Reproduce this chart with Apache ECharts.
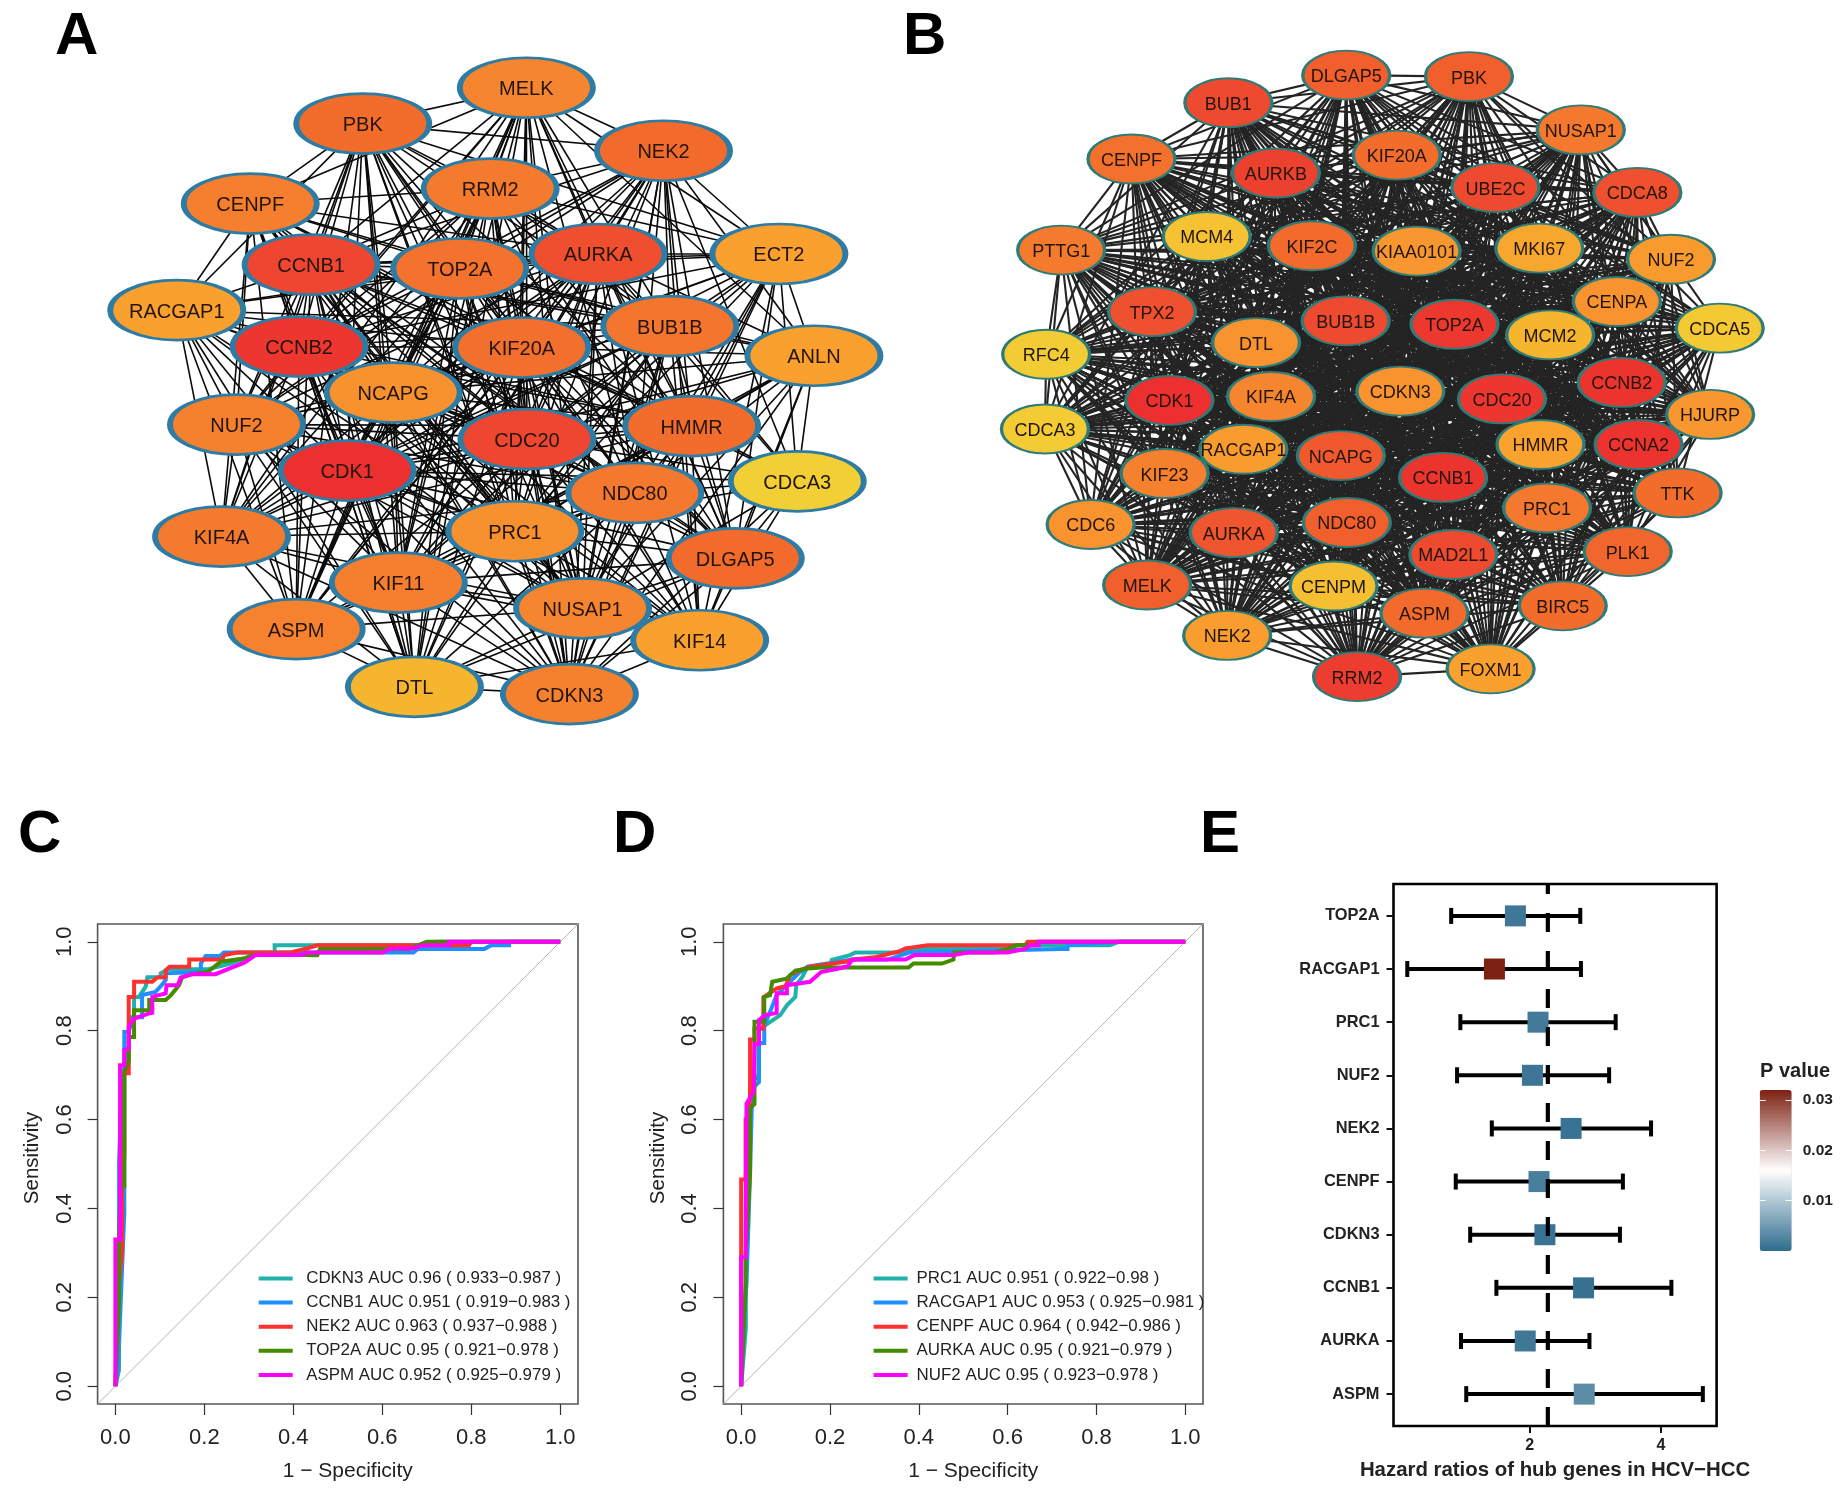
<!DOCTYPE html>
<html><head><meta charset="utf-8">
<style>html,body{margin:0;background:#fff}#c{width:1843px;height:1490px}</style>
<script src="https://cdn.jsdelivr.net/npm/echarts@6/dist/echarts.min.js"></script>
</head><body><div id="c"></div>
<script>
// ---------- Panel A network ----------
const genesA = ['MELK','PBK','NEK2','CENPF','RRM2','AURKA','ECT2','CCNB1','TOP2A','RACGAP1','BUB1B','CCNB2','KIF20A','ANLN','NCAPG','NUF2','HMMR','CDC20','CDK1','CDCA3','NDC80','PRC1','KIF4A','DLGAP5','KIF11','NUSAP1','ASPM','KIF14','DTL','CDKN3'];
const layoutXA = [917,632,1156,436,854,1042,1357,542,801,308,1167,521,909,1418,685,412,1205,918,605,1389,1106,897,386,1281,694,1015,516,1219,722,992];
const layoutYA = [181,255,311,420,389,524,524,546,554,640,673,715,717,734,810,876,879,906,971,993,1017,1096,1107,1152,1202,1255,1298,1321,1417,1432];
const scoreA = [.5,.68,.7,.55,.58,.83,.35,.87,.64,.35,.62,.96,.66,.35,.43,.53,.68,.87,1,0,.6,.44,.58,.7,.55,.5,.52,.35,.2,.53];
const neighboursA = [
 [1,2,3,4,5,6,7,8,10,11,12,13,14,15,16,17,18,20,21,22,23,24,25,26,28,29],
 [2,3,4,5,6,7,8,9,10,11,12,14,15,16,17,18,20,21,22,23,24,25,26,28,29],
 [4,5,6,7,8,10,11,12,13,14,15,16,17,18,19,20,21,23,24,25,26,27,29],
 [4,5,7,8,9,10,11,12,14,15,16,17,18,20,21,22,24,25,26,28],
 [5,6,7,8,10,11,12,14,15,16,17,18,20,21,22,23,24,25,26,28,29],
 [6,7,8,9,10,11,12,13,14,15,16,17,18,19,20,21,22,23,24,25,26,27,28,29],
 [7,8,10,11,12,13,14,16,17,18,19,20,21,23,24,25,27,29],
 [8,9,10,11,12,13,14,15,16,17,18,20,21,22,23,24,25,26,27,28,29],
 [9,10,11,12,13,14,15,16,17,18,20,21,22,23,24,25,26,27,28,29],
 [10,11,12,14,15,16,17,18,21,22,24,25,26,28],
 [11,12,13,14,16,17,18,19,20,21,22,23,24,25,27,28,29],
 [12,14,15,16,17,18,20,21,22,23,24,25,26,27,28,29],
 [13,14,15,16,17,18,19,20,21,22,23,24,25,26,27,28,29],
 [14,16,17,18,19,20,21,23,24,25,27,29],
 [15,16,17,18,20,21,22,23,24,25,26,27,28,29],
 [16,17,18,20,21,22,24,25,26,28,29],
 [17,18,19,20,21,22,23,24,25,26,27,29],
 [18,19,20,21,22,23,24,25,26,27,28,29],
 [19,20,21,22,23,24,25,26,27,28,29],
 [20,21,23,25,27,29],
 [21,22,23,24,25,26,27,28,29],
 [22,23,24,25,26,27,28,29],
 [24,25,26,28,29],
 [24,25,27,28,29],
 [25,26,27,28,29],
 [26,27,28,29],
 [28,29],
 [28,29],
 [29],
 []
];
// ---------- Panel B network ----------
const genesB = ['BUB1','DLGAP5','PBK','NUSAP1','CENPF','KIF20A','AURKB','UBE2C','CDCA8','PTTG1','MCM4','KIF2C','KIAA0101','MKI67','NUF2','TPX2','BUB1B','TOP2A','CENPA','CDCA5','MCM2','DTL','RFC4','CDK1','KIF4A','CDKN3','CDC20','CCNB2','HJURP','CDCA3','RACGAP1','NCAPG','HMMR','CCNA2','KIF23','CCNB1','PRC1','TTK','CDC6','AURKA','NDC80','MAD2L1','PLK1','MELK','CENPM','ASPM','BIRC5','NEK2','FOXM1','RRM2'];
const layoutXB = [546,742,946,1132,385,826,625,990,1226,268,510,685,859,1063,1282,419,741,922,1192,1363,1081,592,243,448,617,832,1001,1200,1347,241,571,733,1065,1228,440,903,1076,1293,317,555,743,920,1210,411,721,872,1102,544,982,760];
const layoutYB = [212,155,158,268,328,320,357,387,397,516,488,507,518,512,535,643,662,669,622,677,691,707,731,826,818,807,823,789,855,885,927,940,917,917,977,985,1048,1017,1082,1099,1078,1144,1138,1207,1209,1265,1250,1311,1380,1396];
const scoreB = [.85,.75,.75,.6,.65,.68,.9,.85,.82,.58,.1,.7,.4,.3,.38,.82,.85,.95,.42,.05,.2,.42,.02,1,.5,.42,.96,.97,.4,.03,.37,.78,.33,.98,.53,.97,.6,.68,.42,.8,.75,.85,.72,.75,.12,.7,.68,.36,.35,.92];
const absentLinksB = 'BUB1-MCM4 BUB1-CENPM BUB1-RFC4 BUB1-CDCA5 DLGAP5-MCM4 DLGAP5-KIF2C DLGAP5-MKI67 PBK-MCM2 PBK-KIAA0101 PBK-CENPA NUSAP1-CENPA NUSAP1-MCM2 NUSAP1-MKI67 NUSAP1-KIF2C CENPF-TPX2 CENPF-MCM4 CENPF-KIF2C CENPF-DTL KIF20A-KIAA0101 KIF20A-MCM4 KIF20A-MKI67 AURKB-MCM4 AURKB-KIF2C AURKB-KIAA0101 UBE2C-MKI67 UBE2C-KIAA0101 UBE2C-MCM2 CDCA8-MKI67 CDCA8-CENPA CDCA8-CDCA5 CDCA8-MCM2 PTTG1-MCM4 PTTG1-TPX2 PTTG1-KIF2C MCM4-KIF2C MCM4-TPX2 MCM4-DTL MCM4-KIAA0101 MCM4-BUB1B KIF2C-KIAA0101 KIF2C-DTL KIAA0101-MKI67 KIAA0101-TOP2A MKI67-NUF2 MKI67-MCM2 MKI67-CENPA NUF2-CENPA NUF2-CDCA5 NUF2-MCM2 CENPA-CDCA5 CENPA-MCM2 CDCA5-HJURP CDCA5-MCM2 RFC4-TPX2 RFC4-DTL RFC4-CDK1 RFC4-KIF4A CDCA3-KIF23 CDCA3-RACGAP1 CDCA3-CDK1 HJURP-CCNA2 HJURP-HMMR HJURP-TTK TTK-PRC1 TTK-PLK1 TTK-HMMR PLK1-PRC1 PLK1-BIRC5 PLK1-MAD2L1 BIRC5-ASPM BIRC5-MAD2L1 BIRC5-FOXM1 FOXM1-ASPM FOXM1-CENPM FOXM1-MAD2L1 RRM2-CENPM RRM2-ASPM RRM2-NDC80 NEK2-CENPM NEK2-AURKA NEK2-NDC80 MELK-AURKA MELK-CENPM MELK-KIF23 CDC6-KIF23 CDC6-AURKA CDC6-RACGAP1 CENPM-NDC80 CENPM-ASPM CENPM-MAD2L1 ASPM-MAD2L1 AURKA-NDC80 AURKA-KIF23 NDC80-MAD2L1 PRC1-MAD2L1 PRC1-HMMR';

// ---------- Panel C ROC curves ----------
const legendC = ['CDKN3 AUC 0.96 ( 0.933\u22120.987 )','CCNB1 AUC 0.951 ( 0.919\u22120.983 )','NEK2 AUC 0.963 ( 0.937\u22120.988 )','TOP2A AUC 0.95 ( 0.921\u22120.978 )','ASPM AUC 0.952 ( 0.925\u22120.979 )'];
const rocCDKN3 = [[0,0],[.008,.036],[.008,.5],[.015,.7],[.02,.7],[.03,.76],[.03,.8],[.042,.83],[.042,.876],[.053,.876],[.068,.899],[.072,.92],[.102,.92],[.102,.929],[.12,.938],[.207,.938],[.26,.951],[.31,.97],[.358,.97],[.358,.992],[.7,.992],[.72,1],[1,1]];
const rocCCNB1 = [[0,0],[.006,.04],[.012,.19],[.02,.39],[.02,.797],[.03,.797],[.035,.83],[.06,.83],[.06,.88],[.09,.887],[.102,.9],[.113,.914],[.113,.929],[.192,.932],[.192,.951],[.203,.968],[.235,.968],[.244,.976],[.42,.976],[.67,.976],[.68,.984],[.83,.984],[.845,.992],[.885,.992],[.885,1],[1,1]];
const rocNEK2 = [[0,0],[.005,.2],[.015,.3],[.015,.52],[.02,.52],[.02,.704],[.03,.704],[.03,.876],[.042,.876],[.042,.91],[.083,.91],[.095,.92],[.113,.92],[.113,.936],[.122,.944],[.166,.944],[.166,.96],[.24,.96],[.245,.97],[.274,.976],[.394,.976],[.43,.985],[.454,.992],[.795,.992],[.8,1],[1,1]];
const rocTOP2A = [[0,0],[.008,.19],[.008,.33],[.012,.45],[.02,.45],[.02,.71],[.03,.73],[.03,.786],[.042,.786],[.042,.846],[.076,.846],[.076,.869],[.113,.869],[.125,.88],[.143,.902],[.15,.92],[.17,.927],[.207,.932],[.237,.955],[.293,.963],[.31,.971],[.39,.971],[.454,.97],[.46,.984],[.66,.984],[.68,.992],[.7,1],[1,1]];
const rocASPM = [[0,0],[0,.33],[.0105,.33],[.0105,.722],[.02,.722],[.02,.756],[.03,.76],[.03,.808],[.042,.827],[.076,.839],[.083,.84],[.083,.876],[.113,.884],[.115,.902],[.14,.902],[.147,.92],[.173,.927],[.225,.927],[.267,.944],[.29,.953],[.315,.97],[.42,.97],[.43,.976],[.6,.976],[.62,.985],[.67,.985],[.69,.992],[.75,.992],[.75,1],[1,1]];
// ---------- Panel D ROC curves ----------
const legendD = ['PRC1 AUC 0.951 ( 0.922\u22120.98 )','RACGAP1 AUC 0.953 ( 0.925\u22120.981 )','CENPF AUC 0.964 ( 0.942\u22120.986 )','AURKA AUC 0.95 ( 0.921\u22120.979 )','NUF2 AUC 0.95 ( 0.923\u22120.978 )'];
const rocPRC1 = [[0,0],[.0105,.13],[.0105,.48],[.02,.48],[.02,.68],[.04,.7],[.04,.8],[.054,.812],[.088,.835],[.103,.857],[.122,.876],[.124,.902],[.137,.92],[.15,.944],[.2,.944],[.204,.959],[.245,.97],[.257,.976],[.355,.976],[.4,.984],[.6,.984],[.62,.992],[.83,.992],[.85,1],[1,1]];
const rocRACGAP1 = [[0,0],[.008,.18],[.012,.23],[.02,.48],[.025,.67],[.04,.684],[.04,.772],[.052,.772],[.052,.81],[.06,.83],[.08,.88],[.1,.9],[.13,.93],[.15,.944],[.25,.96],[.33,.96],[.38,.976],[.72,.984],[.735,.984],[.735,.992],[.85,1],[1,1]];
const rocCENPF = [[0,0],[0,.465],[.01,.465],[.01,.6],[.015,.6],[.02,.65],[.02,.78],[.03,.78],[.03,.805],[.05,.805],[.05,.875],[.065,.885],[.08,.895],[.1,.9],[.11,.925],[.13,.935],[.155,.944],[.234,.955],[.255,.96],[.3,.965],[.355,.978],[.37,.985],[.42,.992],[.64,.992],[.645,1],[1,1]];
const rocAURKA = [[0,0],[.01,.23],[.01,.29],[.02,.48],[.02,.625],[.03,.635],[.03,.82],[.052,.82],[.052,.876],[.065,.88],[.07,.91],[.102,.917],[.122,.935],[.15,.94],[.18,.942],[.377,.942],[.388,.951],[.452,.951],[.478,.96],[.48,.976],[.57,.976],[.6,.984],[.62,.992],[.66,.992],[.67,1],[1,1]];
const rocNUF2 = [[0,0],[0,.29],[.01,.29],[.012,.636],[.028,.662],[.03,.77],[.04,.77],[.04,.824],[.054,.835],[.08,.84],[.08,.884],[.103,.884],[.103,.902],[.155,.91],[.18,.932],[.22,.94],[.24,.945],[.25,.96],[.37,.96],[.39,.97],[.48,.97],[.51,.976],[.6,.976],[.64,.984],[.65,.992],[.67,.992],[.67,1],[1,1]];
const rocTicks = [0,.2,.4,.6,.8,1];
const diagonal = [[-.04,-.04],[1.04,1.04]];
// ---------- Panel E hazard ratios ----------
const hubGenes = ['TOP2A','RACGAP1','PRC1','NUF2','NEK2','CENPF','CDKN3','CCNB1','AURKA','ASPM'];
const hrLow  = [.8,.13,.94,.89,1.42,.87,1.09,1.49,.95,1.03];
const hrMid  = [1.78,1.46,2.125,2.04,2.63,2.14,2.23,2.82,1.93,2.83];
const hrHigh = [2.77,2.78,3.31,3.21,3.85,3.42,3.375,4.16,2.91,4.64];
const pValue = [.0012,.032,.0015,.001,.0008,.002,.0008,.0005,.0012,.0035];
const hrReference = 2.275;
const hrTicks = [2,4];
const pTicks = [.01,.02,.03];

// ---------- Styling and assembly ----------
const FONT = 'Liberation Sans';
const heatStops = [[0,'#f2cf35'],[.2,'#f6b52f'],[.35,'#f9a02e'],[.5,'#f68530'],[.7,'#f26a2c'],[.85,'#ee4a30'],[1,'#ec2f2f']];
function heat(v){
  for(let i=1;i<heatStops.length;i++){
    if(v<=heatStops[i][0]){
      const a=heatStops[i-1],b=heatStops[i];
      return echarts.color.lerp((v-a[0])/(b[0]-a[0]),[a[1],b[1]]);
    }
  }
  return heatStops[heatStops.length-1][1];
}
function network(idx,genes,xs,ys,scores,links,size,border,borderW,fs,edgeColor,edgeW){
  return {type:'graph',coordinateSystem:'cartesian2d',xAxisIndex:idx,yAxisIndex:idx,silent:true,symbol:'circle',symbolSize:size,
    animation:false,z:2,
    label:{show:true,position:'inside',offset:[0,2],fontFamily:FONT,fontSize:fs,color:'#24150c'},
    lineStyle:{color:edgeColor,width:edgeW,opacity:1,curveness:0},
    itemStyle:{borderColor:border,borderWidth:borderW,opacity:1},
    data:genes.map((g,i)=>({name:g,value:[xs[i],ys[i]],itemStyle:{color:heat(scores[i])}})),
    links:links};
}
const linksA=[];
neighboursA.forEach((row,i)=>row.forEach(j=>linksA.push({source:i,target:j})));
const absent=new Set(absentLinksB.split(' '));
const linksB=[];
genesB.forEach((a,i)=>genesB.forEach((b,j)=>{
  if(j>i && !absent.has(a+'-'+b) && !absent.has(b+'-'+a)) linksB.push({source:i,target:j});
}));
const rocColors=['#20b2aa','#1e90ff','#ff3030','#458b00','#ff00ff'];
function rocSeries(idx,names,curves){
  const out=[{type:'line',xAxisIndex:idx,yAxisIndex:idx,data:diagonal,symbol:'none',silent:true,animation:false,z:2,lineStyle:{color:'#b5b5b5',width:1}}];
  curves.forEach((c,i)=>out.push({type:'line',name:names[i],xAxisIndex:idx,yAxisIndex:idx,data:c,symbol:'none',showSymbol:false,silent:true,animation:false,z:3+i,
    color:rocColors[i],lineStyle:{color:rocColors[i],width:4,join:'miter'}}));
  return out;
}
function rocAxes(idx){
  return {
    x:{type:'value',gridIndex:idx,min:-.04,max:1.04,splitLine:{show:false},axisLine:{show:false,onZero:false},
      axisTick:{show:true,length:11,customValues:rocTicks,lineStyle:{color:'#333',width:1.2}},
      axisLabel:{customValues:rocTicks,formatter:v=>v.toFixed(1),margin:23,fontFamily:FONT,fontSize:22,color:'#222'},
      name:'1 \u2212 Specificity',nameLocation:'middle',nameGap:57,nameTextStyle:{fontFamily:FONT,fontSize:21,color:'#222',padding:[0,0,0,20]}},
    y:{type:'value',gridIndex:idx,min:-.04,max:1.04,splitLine:{show:false},axisLine:{show:false,onZero:false},
      axisTick:{show:true,length:10,customValues:rocTicks,lineStyle:{color:'#333',width:1.2}},
      axisLabel:{customValues:rocTicks,rotate:90,formatter:v=>v.toFixed(1),margin:22,fontFamily:FONT,fontSize:22,color:'#222'},
      name:'Sensitivity',nameLocation:'middle',nameGap:55,nameTextStyle:{fontFamily:FONT,fontSize:20.5,color:'#222',padding:[0,0,0,12]}}
  };
}
const hiddenNet=(i)=>({x:{type:'value',gridIndex:i,min:0,max:1568,show:false},y:{type:'value',gridIndex:i,min:0,max:1568,inverse:true,show:false}});
const axA=hiddenNet(0),axB=hiddenNet(1),axC=rocAxes(2),axD=rocAxes(3);
const frame={show:true,backgroundColor:'transparent',borderColor:'#555',borderWidth:1.6};
const axE={
  x:{type:'value',gridIndex:4,min:-.08,max:4.85,splitLine:{show:false},axisLine:{show:false,onZero:false},
     axisTick:{show:true,length:7,customValues:hrTicks,lineStyle:{color:'#111',width:2}},
     axisLabel:{customValues:hrTicks,margin:12,fontFamily:FONT,fontWeight:'bold',fontSize:16,color:'#222'},
     name:'Hazard ratios of hub genes in HCV\u2212HCC',nameLocation:'middle',nameGap:34,nameTextStyle:{fontFamily:FONT,fontWeight:'bold',fontSize:20.4,color:'#222'}},
  y:{type:'value',gridIndex:4,min:-.6,max:9.6,inverse:true,splitLine:{show:false},axisLine:{show:false,onZero:false},
     axisTick:{show:true,length:7,customValues:hubGenes.map((g,i)=>i),lineStyle:{color:'#111',width:2}},
     axisLabel:{customValues:hubGenes.map((g,i)=>i),formatter:v=>hubGenes[v],margin:14,fontFamily:FONT,fontWeight:'bold',fontSize:16.4,color:'#222'}}
};
const pAxis=(pos)=>({type:'value',gridIndex:5,position:pos,min:0,max:.032,z:20,splitLine:{show:false},axisLine:{show:false,onZero:false},
  axisTick:{show:true,inside:true,length:6,customValues:pTicks,lineStyle:{color:'#fff',width:1}},
  axisLabel:{show:pos==='right',customValues:pTicks,formatter:v=>v.toFixed(2),margin:11,fontFamily:FONT,fontWeight:'bold',fontSize:15.5,color:'#222'}});
const hrData=hubGenes.map((g,i)=>[hrLow[i],hrMid[i],hrHigh[i],i,pValue[i]]);
const series=[
  network(0,genesA,layoutXA,layoutYA,scoreA,linksA,[133,60],'#2e7ca3',4,20,'#0a0a0a',1.6),
  network(1,genesB,layoutXB,layoutYB,scoreB,linksB,[87,49],'#2f7b78',2.5,18,'#242424',2.1),
  ...rocSeries(2,legendC,[rocCDKN3,rocCCNB1,rocNEK2,rocTOP2A,rocASPM]),
  ...rocSeries(3,legendD,[rocPRC1,rocRACGAP1,rocCENPF,rocAURKA,rocNUF2])
];
const hrIndex=series.length;
series.push({type:'custom',xAxisIndex:4,yAxisIndex:4,silent:true,animation:false,z:3,clip:false,data:hrData,
  encode:{x:[0,1,2],y:3},
  renderItem(params,api){
    const lo=api.coord([api.value(0),api.value(3)]),mid=api.coord([api.value(1),api.value(3)]),hi=api.coord([api.value(2),api.value(3)]);
    const st={stroke:'#000',lineWidth:4,fill:null};
    const seg=(x1,y1,x2,y2)=>({type:'line',shape:{x1,y1,x2,y2},style:st});
    return {type:'group',children:[
      seg(lo[0],lo[1],hi[0],hi[1]),
      seg(lo[0],lo[1]-8,lo[0],lo[1]+8),
      seg(hi[0],hi[1]-8,hi[0],hi[1]+8),
      {type:'rect',shape:{x:mid[0]-10.5,y:mid[1]-10.5,width:21,height:21},style:{fill:api.visual('color')}}
    ]};
  }});
series.push({type:'line',xAxisIndex:4,yAxisIndex:4,data:[[hrReference,9.6],[hrReference,-.6]],symbol:'none',silent:true,animation:false,z:5,
  lineStyle:{color:'#000',width:4.2,type:[19,19]}});

const letter=(t,left,top)=>({text:t,left,top,padding:0,textStyle:{fontFamily:FONT,fontWeight:'bold',fontSize:60,color:'#000'}});
const rocLegend=(names,left,gap)=>({orient:'vertical',left,top:1270,padding:0,itemGap:7.1,itemWidth:34,itemHeight:4,icon:'rect',selectedMode:false,data:names,
  textStyle:{fontFamily:FONT,fontSize:16.9,color:'#222',padding:[0,0,0,gap]}});

echarts.init(document.getElementById('c'),null,{renderer:'canvas'}).setOption({
  animation:false,backgroundColor:'#fff',
  title:[letter('A',55,7),letter('B',903,7),letter('C',18,805),letter('D',613,805),letter('E',1200,805),
    {text:'P value',left:1760,top:1061,padding:0,textStyle:{fontFamily:FONT,fontWeight:'bold',fontSize:20,color:'#222'}}],
  legend:[rocLegend(legendC,258.7,8.5),rocLegend(legendD,873.6,4)],
  grid:[
    {left:0,top:0,width:900,height:760},
    {left:900,top:0,width:943,height:760},
    Object.assign({left:97.6,top:924,width:480.4,height:480},frame),
    Object.assign({left:723.4,top:924,width:479.6,height:480},frame),
    {show:true,backgroundColor:'transparent',borderColor:'#000',borderWidth:2.6,left:1393.5,top:884,width:323.1,height:542},
    {left:1759.7,top:1090,width:32,height:161}
  ],
  xAxis:[axA.x,axB.x,axC.x,axD.x,axE.x,{type:'value',gridIndex:5,min:0,max:1,show:false}],
  yAxis:[axA.y,axB.y,axC.y,axD.y,axE.y,pAxis('left'),pAxis('right')],
  visualMap:[{type:'continuous',seriesIndex:hrIndex,dimension:4,min:0,max:.032,left:1759.7,top:1090,padding:0,itemWidth:32,itemHeight:161,
    calculable:false,hoverLink:false,text:null,showLabel:false,inRange:{color:['#2f6c8e','#ffffff','#7d2113']},textStyle:{fontSize:0,color:'transparent'}}],
  series
});
</script></body></html>
